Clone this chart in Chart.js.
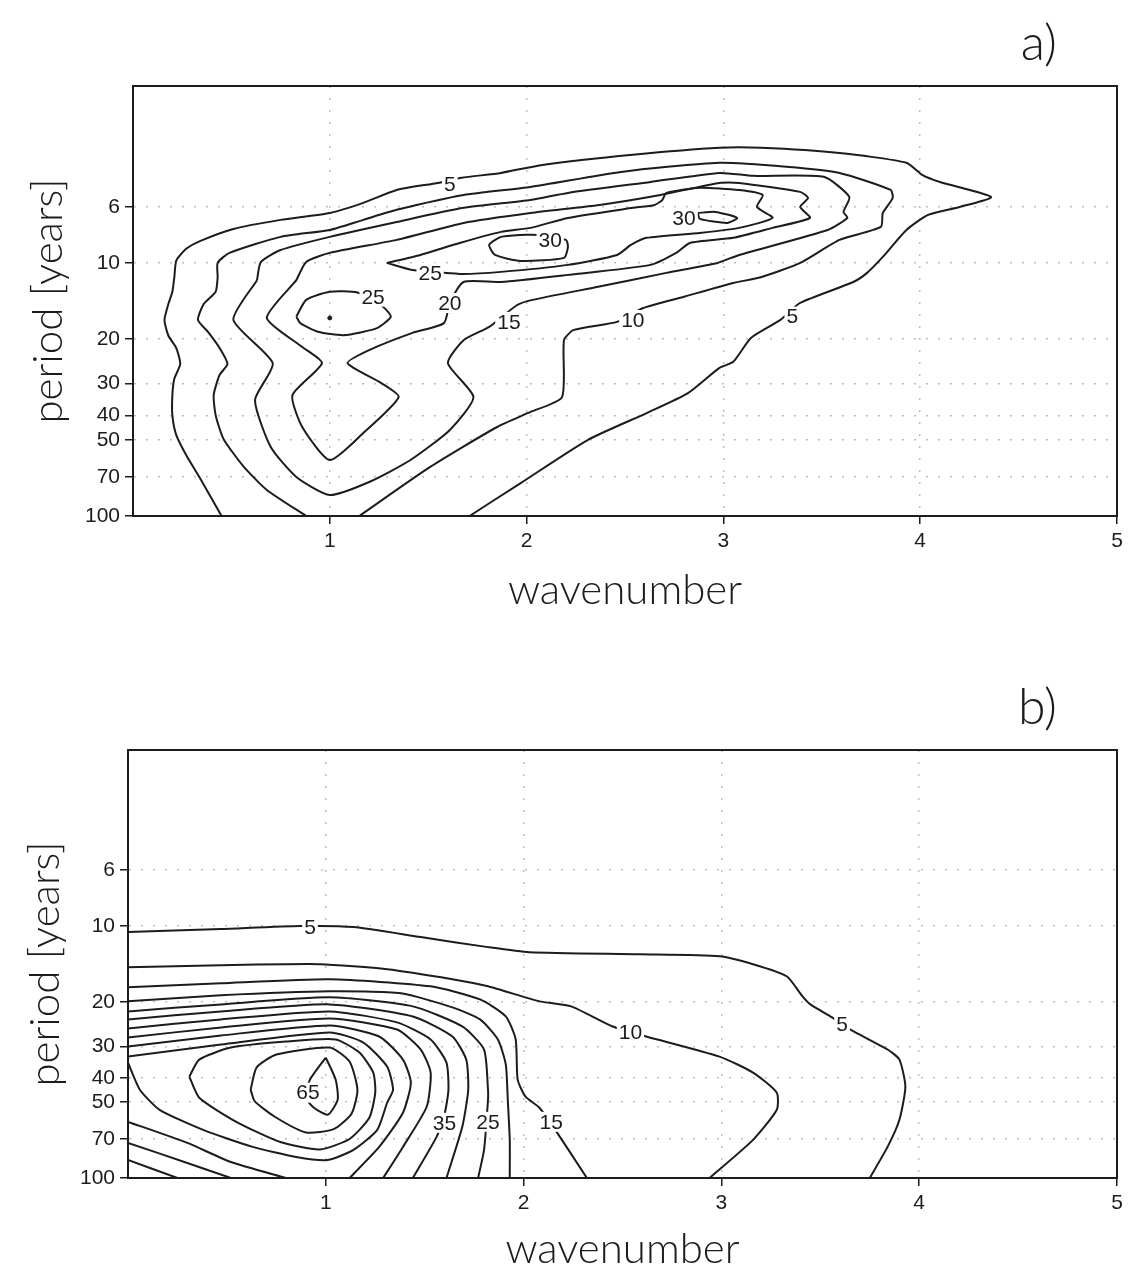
<!DOCTYPE html>
<html>
<head>
<meta charset="utf-8">
<script src="https://cdn.jsdelivr.net/npm/chart.js@4.4.0/dist/chart.umd.min.js"></script>
<style>
  body { margin: 0; background: #fff; }
  #wrap { position: relative; width: 1128px; height: 1275px; }
  canvas { position: absolute; left: 0; }
  #chartA { top: 0; }
  #chartB { top: 640px; }
</style>
</head>
<body>
<div id="wrap">
  <canvas id="chartA" width="1128" height="640"></canvas>
  <canvas id="chartB" width="1128" height="635"></canvas>
</div>
<script>
// axis ticks
const xTicks = [1, 2, 3, 4, 5];
const yTicks = [6, 10, 20, 30, 40, 50, 70, 100];

// panel a) contour lines, points are [wavenumber, period in years]
const a05 = [[0.45,100],[0.34,70.8],[0.27,57.4],[0.22,47.9],[0.20,40],[0.20,33.3],[0.21,28.7],[0.24,25.1],[0.22,21.7],[0.18,19.4],[0.16,16.8],[0.18,14.5],[0.20,13.0],[0.21,11.4],[0.22,9.8],[0.27,8.8],[0.34,8.2],[0.51,7.34],[0.75,6.76],[1.00,6.35],[1.17,5.79],[1.34,5.15],[1.55,4.83],[1.67,4.61],[1.87,4.41],[2.08,4.10],[2.54,3.74],[2.98,3.51],[3.19,3.51],[3.59,3.68],[3.93,4.02],[4.01,4.49],[4.10,4.79],[4.36,5.49],[4.20,6.01],[4.04,6.46],[3.93,7.41],[3.81,9.47],[3.73,10.95],[3.66,11.9],[3.39,14.4],[3.29,16.8],[3.14,19.8],[3.05,24.6],[2.98,26.0],[2.82,32.7],[2.61,39.2],[2.31,50.1],[1.97,74.1],[1.71,100]];
const a10 = [[0.88,100],[0.68,78.9],[0.56,63.5],[0.46,49.6],[0.42,40],[0.41,33.3],[0.44,27.7],[0.48,25.1],[0.44,21.7],[0.38,18.7],[0.33,16.8],[0.36,14.5],[0.42,13.0],[0.43,11.4],[0.43,10],[0.49,9.13],[0.75,7.89],[1.00,7.41],[1.17,6.76],[1.34,6.17],[1.68,5.39],[2.02,5.01],[2.48,4.37],[2.98,4.02],[3.32,4.17],[3.59,4.41],[3.85,5.15],[3.86,5.54],[3.81,6.35],[3.80,7.21],[3.59,8.11],[3.39,10],[3.19,11.4],[3.05,12.0],[2.80,13.6],[2.59,15.1],[2.46,17.1],[2.24,18.4],[2.19,20.2],[2.18,33.9],[2.02,38.8],[1.85,44.5],[1.51,64.0],[1.15,100]];
const a15 = [[0.63,11.7],[0.51,16.8],[0.71,24.9],[0.62,34.8],[0.70,53.4],[0.83,70.1],[1.00,82.6],[1.20,73.4],[1.41,60.1],[1.61,45.7],[1.73,33.9],[1.60,24.9],[1.68,20.2],[1.81,17.9],[1.95,14.7],[2.03,14.0],[2.37,12.4],[2.71,10.95],[2.97,10],[3.08,9.30],[3.53,7.41],[3.63,6.64],[3.61,6.29],[3.64,5.49],[3.51,4.57],[3.15,4.53],[2.98,4.41],[2.63,4.79],[2.21,5.29],[2.02,5.64],[1.68,6.06],[1.34,6.89],[1.00,7.89],[0.75,8.89],[0.65,9.91],[0.63,11.7]];
const a20 = [[0.83,11.7],[0.68,16.5],[0.86,21.5],[0.96,24.9],[0.81,33.3],[0.86,44.5],[1.00,60.1],[1.17,47.0],[1.35,33.9],[1.26,29.8],[1.09,24.9],[1.20,22.1],[1.42,18.9],[1.58,17.3],[1.61,14.4],[1.68,11.9],[1.87,11.9],[2.21,11.15],[2.63,10.18],[2.76,9.13],[2.83,8.34],[3.05,7.96],[3.25,7.27],[3.44,6.64],[3.39,6.01],[3.43,5.54],[3.39,5.24],[3.08,4.83],[2.98,4.83],[2.68,5.39],[2.37,5.90],[2.02,6.35],[1.68,6.95],[1.34,8.11],[1.00,9.13],[0.88,9.91],[0.83,11.7]];
const a25 = [[1.29,10],[1.46,9.30],[1.66,8.34],[1.87,7.54],[2.02,7.27],[2.21,6.64],[2.54,6.06],[2.65,5.90],[2.69,5.64],[2.71,5.29],[2.88,5.05],[3.08,5.15],[3.20,5.39],[3.17,6.01],[3.25,6.64],[3.08,7.27],[2.88,7.61],[2.61,7.96],[2.53,8.49],[2.46,9.30],[2.21,10.18],[1.87,10.85],[1.66,11.05],[1.42,10.66],[1.29,10]];
const a25b = [[0.83,16.3],[0.88,14.0],[1.00,13.0],[1.14,13.1],[1.27,14.9],[1.31,16.3],[1.24,18.1],[1.07,19.3],[0.94,18.7],[0.85,17.3],[0.83,16.3]];
const a30a = [[2.05,7.75],[1.97,7.75],[1.87,7.89],[1.81,8.49],[1.84,9.30],[1.97,9.82],[2.19,9.55],[2.21,8.64],[2.20,8.11],[2.05,7.75]];
const a30b = [[2.87,6.35],[2.96,6.29],[3.07,6.64],[3.02,6.95],[2.88,6.70],[2.87,6.35]];
const aDot = [[1.0, 16.5]];
const aLabels = [[1.61,4.87,'5'],[2.12,8.11,'30'],[1.51,10.95,'25'],[2.80,6.64,'30'],[1.22,13.6,'25'],[1.61,14.4,'20'],[1.91,17.1,'15'],[2.54,16.8,'10'],[3.35,16.3,'5']];

// panel b) contour lines
const b05 = [[0,10.56],[0.47,10.28],[0.87,10.0],[1.14,10.09],[1.48,11.06],[1.82,12.12],[2.03,12.69],[2.59,12.93],[2.99,13.17],[3.16,14.17],[3.33,15.82],[3.41,19.01],[3.45,20.46],[3.56,23.05],[3.65,25.73],[3.84,30.90],[3.90,33.88],[3.93,43.39],[3.90,58.74],[3.84,75.26],[3.75,100]];
const b10 = [[0,14.57],[0.47,14.30],[0.97,14.17],[1.31,14.84],[1.64,16.26],[1.82,17.34],[2.08,19.90],[2.24,20.83],[2.45,25.03],[2.62,27.43],[2.99,32.96],[3.16,38.17],[3.28,45.85],[3.28,53.61],[3.16,70.57],[2.94,100]];
const b15 = [[0,17.50],[0.47,16.87],[1.02,16.26],[1.53,17.34],[1.78,19.54],[1.91,22.84],[1.96,28.19],[1.97,40.70],[2.01,47.57],[2.08,52.63],[2.15,62.65],[2.32,100]];
const b20 = [[0,19.90],[0.47,18.83],[1.02,18.16],[1.38,18.49],[1.64,21.02],[1.78,23.47],[1.87,28.19],[1.91,35.46],[1.92,48.90],[1.93,70.57],[1.93,100]];
const b25 = [[0,21.81],[0.47,20.46],[1.02,19.18],[1.44,20.83],[1.69,25.03],[1.80,30.90],[1.82,44.61],[1.82,48.90],[1.80,77.35],[1.77,100]];
const b30 = [[0,23.47],[0.47,21.81],[1.02,20.46],[1.44,22.84],[1.64,27.43],[1.71,33.88],[1.72,44.61],[1.69,62.65],[1.61,100]];
const b35 = [[0,25.49],[0.47,23.47],[1.02,21.81],[1.36,24.12],[1.53,28.19],[1.61,34.82],[1.62,44.61],[1.60,56.10],[1.56,68.66],[1.44,100]];
const b40 = [[0,27.68],[0.47,25.26],[1.02,23.25],[1.36,25.73],[1.48,30.90],[1.53,38.17],[1.51,52.15],[1.39,75.26],[1.29,100]];
const b45 = [[0,30.07],[0.47,27.18],[1.02,24.80],[1.27,27.43],[1.39,33.88],[1.43,41.83],[1.39,55.09],[1.27,75.26],[1.12,100]];
const b50 = [[0,32.96],[0.47,29.52],[1.02,26.44],[1.19,28.99],[1.31,36.12],[1.34,44.61],[1.31,50.27],[1.26,64.40],[1.14,77.35],[1.01,84.8],[0.85,82.5],[0.63,75.26],[0.38,64.40],[0.16,53.61],[0.06,44.61],[0,34.82]];
const b55 = [[0.31,39.59],[0.36,33.88],[0.52,30.35],[0.80,28.72],[1.05,28.19],[1.17,31.77],[1.24,38.17],[1.25,45.85],[1.22,57.7],[1.12,70.0],[0.97,77.0],[0.77,72.0],[0.55,60.0],[0.36,48.0],[0.31,39.59]];
const b60 = [[0.62,44.61],[0.65,36.45],[0.75,32.36],[1.02,30.35],[1.12,34.50],[1.16,44.61],[1.13,55.6],[1.04,64.0],[0.90,66.0],[0.74,57.0],[0.64,49.5],[0.62,44.61]];
const b65 = [[1.00,33.26],[1.05,40.70],[1.06,48.90],[1.01,56.10],[0.94,52.63],[0.90,48.01],[0.92,40.70],[1.00,33.26]];
const b45b = [[0,59.84],[0.30,72.55],[0.52,86.37],[0.80,100]];
const b40b = [[0,72.55],[0.30,87.17],[0.52,100]];
const b35b = [[0,84.79],[0.25,100]];
const bLabels = [[0.92,10.09,'5'],[2.54,26.44,'10'],[3.61,24.57,'5'],[0.91,45.85,'65'],[1.60,60.39,'35'],[1.82,59.84,'25'],[2.14,59.84,'15']];

const INK = '#1c1c1c';
const FONT = "'Liberation Sans', Arial, sans-serif";
const TITLE_FONT = "Lato, 'Liberation Sans', sans-serif";
Chart.defaults.font.family = FONT;
Chart.defaults.color = INK;

function toPts(arr) {
    return arr.map(p => ({ x: p[0], y: p[1] }));
}

function lineSet(arr) {
    return {
        data: toPts(arr),
        showLine: true,
        borderColor: INK,
        borderWidth: 2,
        pointRadius: 0,
        tension: 0.2,
        fill: false
    };
}

// contour labels, frame round the plot and the a)/b) tag
const contourLabels = {
    id: 'contourLabels',
    afterDatasetsDraw(chart, args, opts) {
        const { ctx, chartArea, scales } = chart;
        ctx.save();
        ctx.font = '21px ' + FONT;
        ctx.textAlign = 'center';
        ctx.textBaseline = 'middle';
        (opts.items || []).forEach(([x, y, t]) => {
            const px = scales.x.getPixelForValue(x);
            const py = scales.y.getPixelForValue(y);
            const w = ctx.measureText(t).width + 4;
            ctx.fillStyle = '#fff';
            ctx.fillRect(px - w / 2, py - 10, w, 20);
            ctx.fillStyle = INK;
            ctx.fillText(t, px, py + 1);
        });
        ctx.strokeStyle = INK;
        ctx.lineWidth = 2;
        ctx.strokeRect(chartArea.left, chartArea.top, chartArea.right - chartArea.left, chartArea.bottom - chartArea.top);
        ctx.font = '300 50px ' + TITLE_FONT;
        ctx.textAlign = 'right';
        ctx.textBaseline = 'alphabetic';
        ctx.fillText(opts.tag, chartArea.right - 60, chartArea.top - 26);
        ctx.restore();
    }
};

function makeChart(id, sets, dots, labels, tag, pad, yWidth, xHeight, yTitlePad, xTitlePad) {
    const datasets = sets.map(lineSet);
    if (dots.length) {
        datasets.push({ data: toPts(dots), showLine: false, pointRadius: 2, backgroundColor: INK, borderColor: INK });
    }
    return new Chart(document.getElementById(id), {
        type: 'scatter',
        data: { datasets: datasets },
        options: {
            responsive: false,
            animation: false,
            layout: { padding: pad },
            plugins: {
                legend: { display: false },
                tooltip: { enabled: false },
                contourLabels: { items: labels, tag: tag }
            },
            scales: {
                x: {
                    type: 'linear', min: 0, max: 5,
                    afterBuildTicks: s => { s.ticks = xTicks.map(v => ({ value: v })); },
                    afterFit: s => { s.height = xHeight; },
                    ticks: { font: { size: 21 }, color: INK, padding: 5, maxRotation: 0 },
                    grid: { color: '#bdbdbd', lineWidth: 1.5, tickLength: 8, tickColor: INK, tickWidth: 1.5 },
                    border: { display: true, color: INK, width: 2, dash: [2, 10] },
                    title: { display: true, text: 'wavenumber', font: { size: 42, family: TITLE_FONT, weight: '300' }, color: INK, padding: { top: 0, bottom: xTitlePad } }
                },
                y: {
                    type: 'logarithmic', reverse: true, min: 2, max: 100,
                    afterBuildTicks: s => { s.ticks = yTicks.map(v => ({ value: v })); },
                    afterFit: s => { s.width = yWidth; },
                    ticks: { callback: v => String(v), font: { size: 21 }, color: INK, padding: 5, autoSkip: false },
                    grid: { color: '#bdbdbd', lineWidth: 1.5, tickLength: 8, tickColor: INK, tickWidth: 1.5 },
                    border: { display: true, color: INK, width: 2, dash: [2, 10] },
                    title: { display: true, text: 'period [years]', font: { size: 42, family: TITLE_FONT, weight: '300' }, color: INK, padding: { top: yTitlePad, bottom: 0 } }
                }
            }
        },
        plugins: [contourLabels]
    });
}

makeChart('chartA', [a05, a10, a15, a20, a25, a25b, a30a, a30b], aDot, aLabels, 'a)',
    { top: 86, left: 0, right: 11, bottom: 24 }, 133, 100, 23, 0);

makeChart('chartB', [b05, b10, b15, b20, b25, b30, b35, b40, b45, b50, b55, b60, b65, b45b, b40b, b35b], [], bLabels, 'b)',
    { top: 110, left: 0, right: 11, bottom: 0 }, 128, 97, 20, 0);
</script>
</body>
</html>
